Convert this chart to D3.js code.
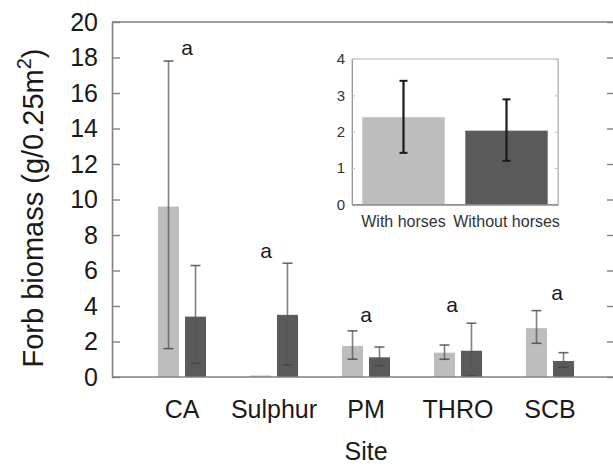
<!DOCTYPE html>
<html>
<head>
<meta charset="utf-8">
<script src="https://cdn.jsdelivr.net/npm/d3@7"></script>
<style>
  html, body { margin: 0; padding: 0; background: #fff; }
  svg { display: block; font-family: "Liberation Sans", Arial, sans-serif; }
</style>
</head>
<body>
<svg id="chart" width="613" height="468"></svg>
<script>
// ---- data ----
const sites = ["CA", "Sulphur", "PM", "THRO", "SCB"];
const treatments = ["With horses", "Without horses"];
const withHorsesMean = [9.6, 0.05, 1.75, 1.37, 2.75];
const withHorsesLow  = [1.6, null, 1.0, 1.0, 1.9];
const withHorsesHigh = [17.8, null, 2.6, 1.8, 3.74];
const withoutHorsesMean = [3.4, 3.5, 1.11, 1.48, 0.9];
const withoutHorsesLow  = [0.77, 0.68, 0.65, 0.07, 0.55];
const withoutHorsesHigh = [6.28, 6.41, 1.69, 3.03, 1.37];
const sigLetters = ["a", "a", "a", "a", "a"];
const sigLevel = [18.16, 6.71, 3.1, 3.67, 4.34];
const yTicks = [0, 2, 4, 6, 8, 10, 12, 14, 16, 18, 20];

const insetMeans = [2.4, 2.03];
const insetLow = [1.42, 1.2];
const insetHigh = [3.4, 2.89];
const insetTicks = [0, 1, 2, 3, 4];

// ---- layout ----
const svg = d3.select("#chart");
const L = 112, R = 615, T = 22, B = 377;
const lightFill = "#bdbdbd", darkFill = "#5a5a5a";
const axisCol = "#808080";
const FONT = "Liberation Sans, Arial, sans-serif";

const y = d3.scaleLinear().domain([0, 20]).range([B, T]);
const x = d3.scaleBand().domain(sites).range([136, 596]).padding(0);
const xSub = d3.scaleBand().domain(treatments).range([22, 70]).paddingInner(6 / 27);

// bars
const rows = sites.map((s, i) => [
  {site: s, t: treatments[0], mean: withHorsesMean[i], lo: withHorsesLow[i], hi: withHorsesHigh[i]},
  {site: s, t: treatments[1], mean: withoutHorsesMean[i], lo: withoutHorsesLow[i], hi: withoutHorsesHigh[i]}
]).flat();

const g = svg.append("g");
g.selectAll("rect.bar").data(rows).join("rect")
  .attr("class", "bar")
  .attr("x", d => x(d.site) + xSub(d.t))
  .attr("width", xSub.bandwidth())
  .attr("y", d => Math.min(y(d.mean), y(0) - 1.5))
  .attr("height", d => Math.max(y(0) - y(d.mean), 1.5))
  .attr("fill", d => d.t === treatments[0] ? lightFill : darkFill);

const eb = rows.filter(d => d.lo != null && d.hi != null);
const cx = d => x(d.site) + xSub(d.t) + xSub.bandwidth() / 2;
g.selectAll("line.ev").data(eb).join("line")
  .attr("x1", cx).attr("x2", cx)
  .attr("y1", d => y(d.lo)).attr("y2", d => y(d.hi))
  .attr("stroke", "#555").attr("stroke-opacity", 0.75).attr("stroke-width", 1.6);
["lo", "hi"].forEach(k => {
  g.selectAll("line.cap" + k).data(eb).join("line")
    .attr("x1", d => cx(d) - 5).attr("x2", d => cx(d) + 5)
    .attr("y1", d => y(d[k])).attr("y2", d => y(d[k]))
    .attr("stroke", "#444").attr("stroke-opacity", 0.8).attr("stroke-width", 1.6);
});

// significance letters
const letterShift = [5, -8, 0, -6, 7];
g.selectAll("text.sig").data(sites).join("text")
  .attr("x", (d, i) => x(d) + x.bandwidth() / 2 + letterShift[i])
  .attr("y", (d, i) => y(sigLevel[i]))
  .attr("text-anchor", "middle")
  .attr("font-size", 21).attr("fill", "#1a1a1a")
  .text((d, i) => sigLetters[i]);

// frame
svg.append("line").attr("x1", L).attr("x2", R).attr("y1", T).attr("y2", T)
  .attr("stroke", axisCol).attr("stroke-width", 1.6);
svg.append("line").attr("x1", R).attr("x2", R).attr("y1", T).attr("y2", B)
  .attr("stroke", axisCol).attr("stroke-width", 1.6);

// left axis
const yAx = svg.append("g").attr("transform", `translate(${L},0)`)
  .call(d3.axisLeft(y).tickValues(yTicks).tickSizeInner(-8).tickSizeOuter(0).tickPadding(14));
yAx.select(".domain").attr("stroke", axisCol).attr("stroke-width", 1.6);
yAx.selectAll(".tick line").attr("stroke", axisCol).attr("stroke-width", 1.4);
yAx.selectAll(".tick text").attr("font-size", 25).attr("fill", "#1a1a1a").attr("font-family", FONT);

// right axis ticks
const yAxR = svg.append("g").attr("transform", `translate(${R},0)`)
  .call(d3.axisRight(y).tickValues(yTicks).tickSizeInner(-8).tickSizeOuter(0).tickFormat(""));
yAxR.select(".domain").remove();
yAxR.selectAll(".tick line").attr("stroke", axisCol).attr("stroke-width", 1.4);

// bottom axis
const xAx = svg.append("g").attr("transform", `translate(0,${B})`)
  .call(d3.axisBottom(x).tickSize(0).tickPadding(23));
xAx.select(".domain").attr("d", `M${L},0H${R}`).attr("stroke", axisCol).attr("stroke-width", 1.6);
xAx.selectAll(".tick text").attr("font-size", 25).attr("fill", "#1a1a1a").attr("font-family", FONT);

// axis titles
svg.append("text").attr("x", 366).attr("y", 460).attr("text-anchor", "middle")
  .attr("font-size", 25).attr("fill", "#1a1a1a").text("Site");
const yt = svg.append("text")
  .attr("transform", "translate(43,208) rotate(-90)")
  .attr("text-anchor", "middle").attr("font-size", 29).attr("fill", "#1a1a1a");
yt.append("tspan").text("Forb biomass (g/0.25m");
yt.append("tspan").attr("dy", -12).attr("font-size", 20).text("2");
yt.append("tspan").attr("dy", 12).text(")");

// ---- inset ----
const iL = 352, iR = 558, iT = 59, iB = 204.5;
const iy = d3.scaleLinear().domain([0, 4]).range([iB, iT]);
const ix = d3.scaleBand().domain(treatments).range([iL, iR]).paddingInner(0.2).paddingOuter(0.1);
const ig = svg.append("g");
ig.append("rect").attr("x", iL).attr("y", iT).attr("width", iR - iL).attr("height", iB - iT)
  .attr("fill", "#fff").attr("stroke", "#b5b5b5").attr("stroke-width", 1);
ig.selectAll("rect.ib").data(treatments).join("rect")
  .attr("x", d => ix(d)).attr("width", ix.bandwidth())
  .attr("y", (d, i) => iy(insetMeans[i]))
  .attr("height", (d, i) => iy(0) - iy(insetMeans[i]))
  .attr("fill", (d, i) => i === 0 ? lightFill : darkFill);
const icx = d => ix(d) + ix.bandwidth() / 2;
ig.selectAll("line.iev").data(treatments).join("line")
  .attr("x1", icx).attr("x2", icx)
  .attr("y1", (d, i) => iy(insetLow[i])).attr("y2", (d, i) => iy(insetHigh[i]))
  .attr("stroke", "#1a1a1a").attr("stroke-width", 2.2);
[insetLow, insetHigh].forEach(arr => {
  ig.append("g").selectAll("line").data(treatments).join("line")
    .attr("x1", d => icx(d) - 4).attr("x2", d => icx(d) + 4)
    .attr("y1", (d, i) => iy(arr[i])).attr("y2", (d, i) => iy(arr[i]))
    .attr("stroke", "#1a1a1a").attr("stroke-width", 2);
});
const iyAx = ig.append("g").attr("transform", `translate(${iL},0)`)
  .call(d3.axisLeft(iy).tickValues(insetTicks).tickFormat(d3.format("d"))
    .tickSizeInner(-3).tickSizeOuter(0).tickPadding(7));
iyAx.select(".domain").attr("stroke", "#999");
iyAx.selectAll(".tick line").attr("stroke", "#bbb");
iyAx.selectAll(".tick text").attr("font-size", 15).attr("fill", "#333").attr("font-family", FONT);
const iyAxR = ig.append("g").attr("transform", `translate(${iR},0)`)
  .call(d3.axisRight(iy).tickValues(insetTicks).tickSizeInner(-3).tickSizeOuter(0).tickFormat(""));
iyAxR.select(".domain").attr("stroke", "#bbb");
iyAxR.selectAll(".tick line").attr("stroke", "#bbb");
const ixAx = ig.append("g").attr("transform", `translate(0,${iB})`)
  .call(d3.axisBottom(ix).tickSize(0).tickPadding(11));
ixAx.select(".domain").attr("stroke", "#888").attr("stroke-width", 1.4);
ixAx.selectAll(".tick text").attr("font-size", 16).attr("fill", "#333").attr("font-family", FONT);
</script>
</body>
</html>
